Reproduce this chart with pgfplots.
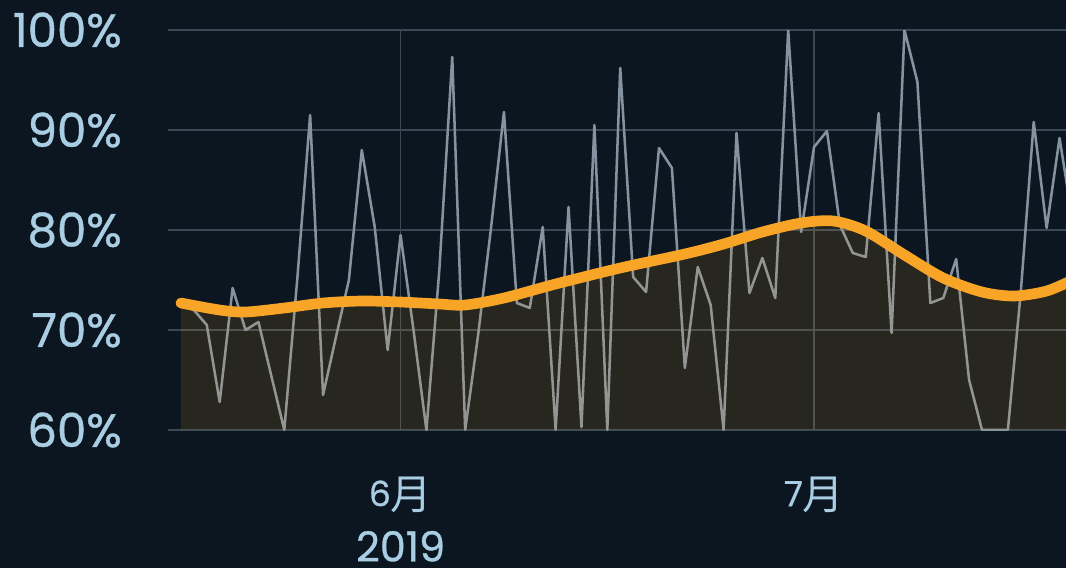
\documentclass[border=0pt]{standalone}
\usepackage{fontspec}
\setmainfont{Poppins}[FakeBold=0.8]
\newfontfamily\cjk{Noto Sans CJK SC}
\usepackage{pgfplots}
\pgfplotsset{compat=1.18}
\definecolor{bg}{HTML}{0B1620}
\definecolor{gridc}{HTML}{3A4856}
\definecolor{grayline}{HTML}{8593A0}
\definecolor{orng}{HTML}{F8A427}
\definecolor{lbl}{HTML}{A9CEE4}
\newcommand{\mon}[1]{{\fontsize{26}{39}\selectfont\raisebox{2.5pt}{#1}}{\cjk\fontsize{31}{39}\selectfont 月}}
\begin{document}
\begin{tikzpicture}
\path[use as bounding box, fill=bg] (-126pt,-103.5pt) rectangle (673.5pt,322.5pt);
\begin{axis}[
  at={(0pt,0pt)}, anchor=south west,
  scale only axis, width=673.5pt, height=300pt,
  xmin=-1.0, xmax=68.5, ymin=60, ymax=100,
  axis line style={draw=none},
  major tick style={draw=none},
  grid=major,
  major grid style={color=gridc, line width=1.1pt},
  ytick={60,70,80,90,100},
  yticklabels={60\%,70\%,80\%,90\%,100\%},
  xtick={17,49},
  xticklabels={{\mon{6}\\2019},{\mon{7}}},
  yticklabel style={font=\fontsize{35}{40}\selectfont, text=lbl, anchor=east, inner sep=0pt, xshift=-34.5pt},
  xticklabel style={font=\fontsize{31}{39}\selectfont, text=lbl, anchor=north, inner sep=0pt, align=center, yshift=-35pt},
  clip=true,
]
\addplot[color=grayline, line width=1.9pt, line join=round] coordinates {
(0,72.5) (1,72.0) (2,70.5) (3,62.8) (4,74.2) (5,70.0) (6,70.8) (7,65.4) (8,60) (9,75)
(10,91.5) (11,63.5) (12,69.3) (13,75) (14,88) (15,80.3) (16,68) (17,79.5) (18,70) (19,60)
(20,76) (21,97.3) (22,60) (23,69.5) (24,80.2) (25,91.8) (26,72.7) (27,72.2) (28,80.3) (29,60)
(30,82.3) (31,60.3) (32,90.5) (33,60) (34,96.2) (35,75.3) (36,73.8) (37,88.2) (38,86.2) (39,66.2)
(40,76.3) (41,72.5) (42,60) (43,89.7) (44,73.7) (45,77.2) (46,73.2) (47,100) (48,79.8) (49,88.3)
(50,89.9) (51,80.5) (52,77.7) (53,77.3) (54,91.7) (55,69.7) (56,100) (57,94.8) (58,72.7) (59,73.2)
(60,77.1) (61,65) (62,60) (63,60) (64,60) (65,73.8) (66,90.8) (67,80.2) (68,89.2) (69,81)
};
\addplot[draw=none, fill=orng, fill opacity=0.12, smooth] coordinates {
(0,72.7) (3,72.0) (5,71.8) (8,72.2) (11,72.7) (14,72.9) (17,72.8) (20,72.6) (22,72.5) (25,73.2)
(29,74.6) (34,76.2) (39,77.6) (42,78.6) (45,79.8) (48,80.7) (50.5,80.9) (53,79.9) (56,77.5) (59,75.2)
(62,73.8) (64.5,73.4) (67,73.9) (69,75.0)
} \closedcycle;
\addplot[color=orng, line width=8pt, line cap=round, smooth] coordinates {
(0,72.7) (3,72.0) (5,71.8) (8,72.2) (11,72.7) (14,72.9) (17,72.8) (20,72.6) (22,72.5) (25,73.2)
(29,74.6) (34,76.2) (39,77.6) (42,78.6) (45,79.8) (48,80.7) (50.5,80.9) (53,79.9) (56,77.5) (59,75.2)
(62,73.8) (64.5,73.4) (67,73.9) (69,75.0)
};
\end{axis}
\end{tikzpicture}
\end{document}
